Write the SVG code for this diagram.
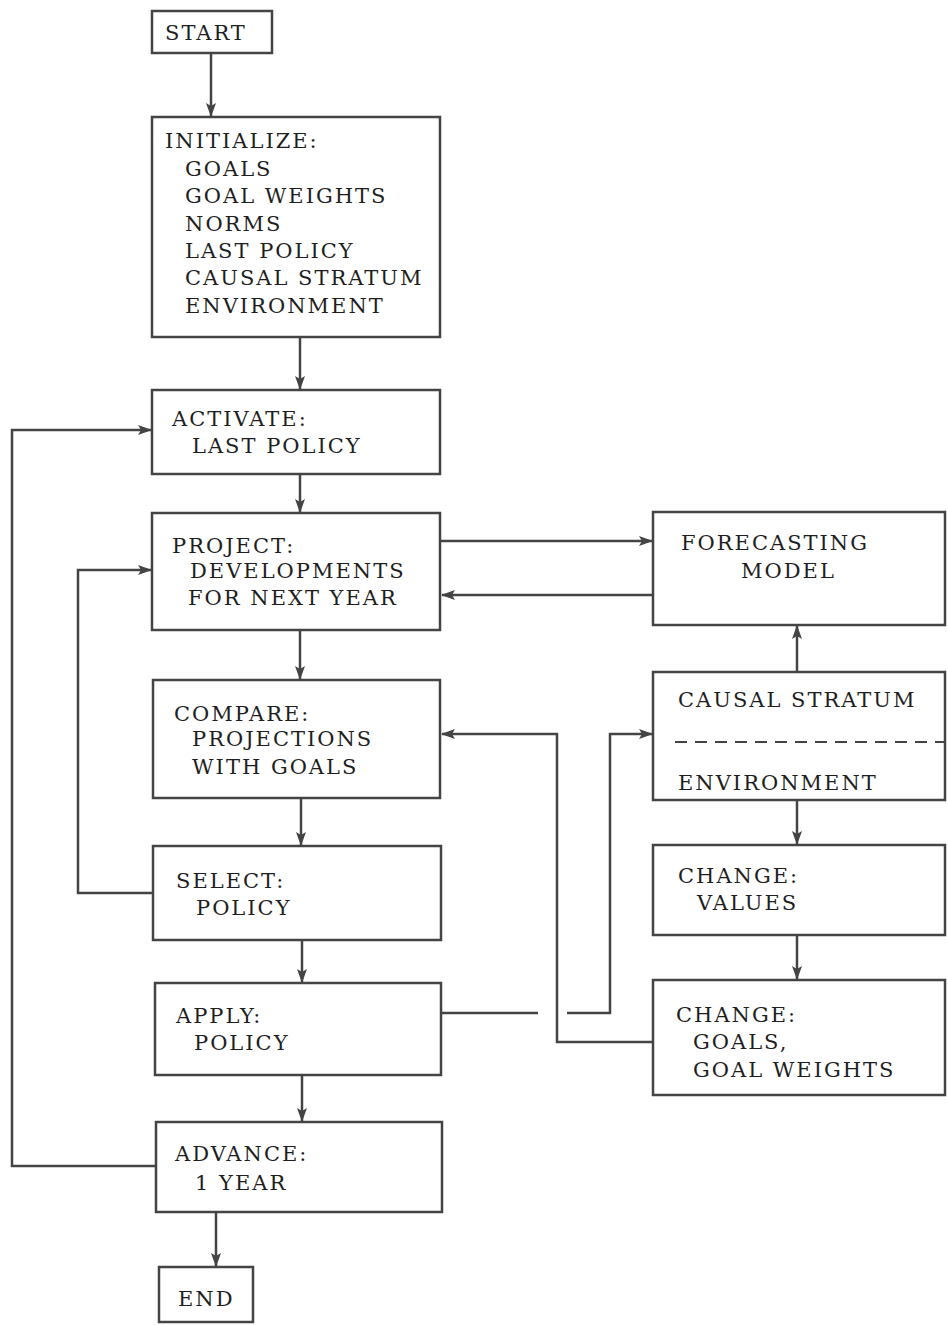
<svg xmlns="http://www.w3.org/2000/svg" width="948" height="1325" viewBox="0 0 948 1325">
<style>
.box{fill:#fff;stroke:#444;stroke-width:2.5}
.ln{fill:none;stroke:#444;stroke-width:2.5}
text{font-family:"DejaVu Serif","Liberation Serif",serif;font-size:21px;letter-spacing:2px;fill:#1e1e1e}
</style>
<defs>
<marker id="ah" markerWidth="14" markerHeight="10" refX="13" refY="5" orient="auto" markerUnits="userSpaceOnUse">
<path d="M0,0 L14,5 L0,10 L3,5 Z" fill="#444"/>
</marker>
</defs>
<rect width="948" height="1325" fill="#fff"/>
<g id="connectors">
<path class="ln" d="M211,53 V116" marker-end="url(#ah)"/>
<path class="ln" d="M300,337 V389" marker-end="url(#ah)"/>
<path class="ln" d="M300,474 V512" marker-end="url(#ah)"/>
<path class="ln" d="M300,630 V679" marker-end="url(#ah)"/>
<path class="ln" d="M301,798 V845" marker-end="url(#ah)"/>
<path class="ln" d="M302,940 V982" marker-end="url(#ah)"/>
<path class="ln" d="M302,1075 V1121" marker-end="url(#ah)"/>
<path class="ln" d="M216,1212 V1266" marker-end="url(#ah)"/>
<path class="ln" d="M441,541 H652" marker-end="url(#ah)"/>
<path class="ln" d="M653,595 H442" marker-end="url(#ah)"/>
<path class="ln" d="M797,672 V626" marker-end="url(#ah)"/>
<path class="ln" d="M797,800 V844" marker-end="url(#ah)"/>
<path class="ln" d="M797,935 V979" marker-end="url(#ah)"/>
<path class="ln" d="M155,1166 H12 V430 H151" marker-end="url(#ah)"/>
<path class="ln" d="M153,893 H78 V570 H151" marker-end="url(#ah)"/>
<path class="ln" d="M653,1042 H557 V734 H442" marker-end="url(#ah)"/>
<path class="ln" d="M441,1013 H538"/>
<path class="ln" d="M567,1013 H610 V734 H652" marker-end="url(#ah)"/>
</g>
<g id="start"><rect class="box" x="152" y="11" width="120" height="42"/><text x="165" y="40">START</text></g>
<g id="initialize"><rect class="box" x="152" y="117" width="288" height="220"/>
<text x="165" y="148">INITIALIZE:</text>
<text x="185" y="176">GOALS</text>
<text x="185" y="203">GOAL WEIGHTS</text>
<text x="185" y="231">NORMS</text>
<text x="185" y="258">LAST POLICY</text>
<text x="185" y="285">CAUSAL STRATUM</text>
<text x="185" y="313">ENVIRONMENT</text></g>
<g id="activate"><rect class="box" x="152" y="390" width="288" height="84"/>
<text x="172" y="426">ACTIVATE:</text>
<text x="192" y="453">LAST POLICY</text></g>
<g id="project"><rect class="box" x="152" y="513" width="288" height="117"/>
<text x="172" y="553">PROJECT:</text>
<text x="190" y="578">DEVELOPMENTS</text>
<text x="188" y="605">FOR NEXT YEAR</text></g>
<g id="compare"><rect class="box" x="153" y="680" width="287" height="118"/>
<text x="174" y="721">COMPARE:</text>
<text x="192" y="746">PROJECTIONS</text>
<text x="192" y="774">WITH GOALS</text></g>
<g id="select"><rect class="box" x="153" y="846" width="288" height="94"/>
<text x="176" y="888">SELECT:</text>
<text x="196" y="915">POLICY</text></g>
<g id="apply"><rect class="box" x="155" y="983" width="286" height="92"/>
<text x="176" y="1023">APPLY:</text>
<text x="194" y="1050">POLICY</text></g>
<g id="advance"><rect class="box" x="156" y="1122" width="286" height="90"/>
<text x="175" y="1161">ADVANCE:</text>
<text x="195" y="1190">1 YEAR</text></g>
<g id="end"><rect class="box" x="159" y="1267" width="94" height="55"/>
<text x="178" y="1306">END</text></g>
<g id="forecasting"><rect class="box" x="653" y="512" width="292" height="113"/>
<text x="681" y="550">FORECASTING</text>
<text x="741" y="578">MODEL</text></g>
<g id="causal"><rect class="box" x="653" y="672" width="292" height="128"/>
<text x="678" y="707">CAUSAL STRATUM</text>
<line x1="675" y1="742" x2="945" y2="742" stroke="#444" stroke-width="2" stroke-dasharray="12,8"/>
<text x="678" y="790">ENVIRONMENT</text></g>
<g id="change-values"><rect class="box" x="653" y="845" width="292" height="90"/>
<text x="678" y="883">CHANGE:</text>
<text x="697" y="910">VALUES</text></g>
<g id="change-goals"><rect class="box" x="653" y="980" width="292" height="115"/>
<text x="676" y="1022">CHANGE:</text>
<text x="693" y="1049">GOALS,</text>
<text x="693" y="1077">GOAL WEIGHTS</text></g>
</svg>
